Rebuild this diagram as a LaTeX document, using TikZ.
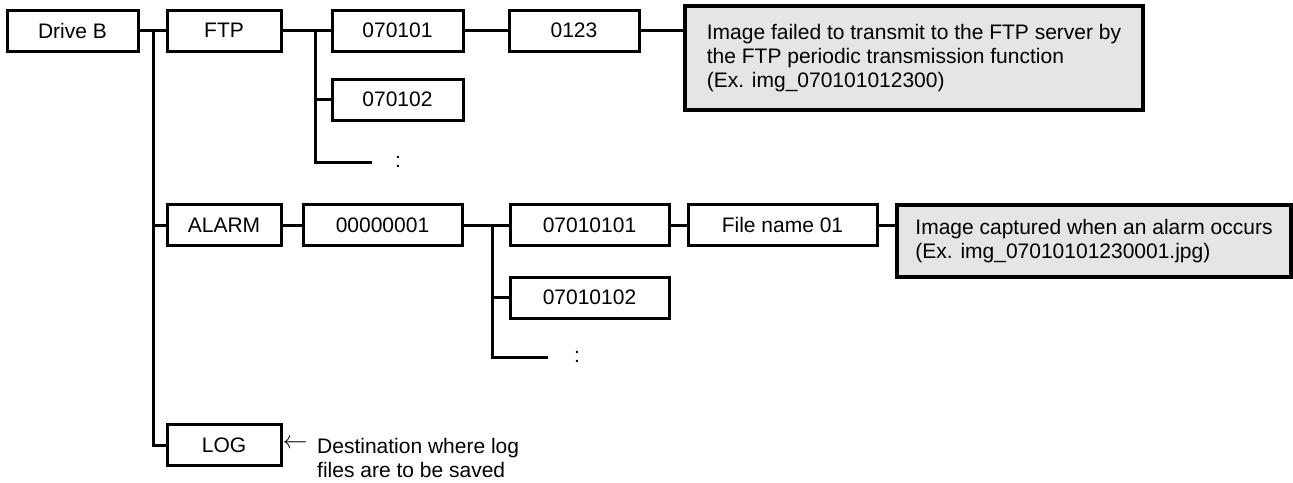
\documentclass[tikz,border=0pt]{standalone}
\usepackage{fontspec}
\setmainfont{Liberation Sans}
\begin{document}
\begin{tikzpicture}[x=1pt,y=-1pt,
  every node/.style={font=\fontsize{21}{24}\selectfont},
  box/.style={draw, line width=3pt, minimum height=41pt, inner sep=0pt, anchor=center},
  note/.style={draw, line width=3.5pt, fill=black!10, align=left, inner xsep=0pt, inner ysep=0pt, anchor=center},
  conn/.style={line width=3pt},
  plain/.style={inner sep=0pt}]
\useasboundingbox (0,0) rectangle (1293,482);
% FTP branch
\node[box, minimum width=131pt] (driveb) at (72.5,30.5) {Drive B};
\node[box, minimum width=114pt] (ftp) at (224,30.5) {FTP};
\node[box, minimum width=131pt] (f070101) at (397.5,30.5) {070101};
\node[box, minimum width=130pt] (f0123) at (574,30.5) {0123};
\node[note, minimum width=458pt, minimum height=104pt] (note1) at (914,58)
  {Image failed to transmit to the FTP server by\\the FTP periodic transmission function\\(Ex. img\_070101012300)};
\node[box, minimum width=131pt] (f070102) at (397.5,99.5) {070102};
\node[plain] (c1) at (398,162) {:};
% ALARM branch
\node[box, minimum width=114pt] (alarm) at (224,225) {ALARM};
\node[box, minimum width=159pt] (a1) at (382.5,225) {00000001};
\node[box, minimum width=159pt] (a070101) at (589.5,225) {07010101};
\node[box, minimum width=189pt] (fname) at (782.5,225) {File name 01};
\node[note, minimum width=394pt, minimum height=72pt] (note2) at (1094,241)
  {Image captured when an alarm occurs\\(Ex. img\_07010101230001.jpg)};
\node[box, minimum width=159pt] (a070102) at (589.5,297.5) {07010102};
\node[plain] (c2) at (577,357) {:};
% LOG
\node[box, minimum width=114pt] (log) at (224,445) {LOG};
\node[plain, font=\fontsize{26}{28}\selectfont] (larr) at (295,444) {$\leftarrow$};
\node[plain, align=left, anchor=north west] (logtext) at (317,438)
  {Destination where log\\files are to be saved};
% trunk coordinates
\coordinate (t0) at (153,30.5);
\coordinate (t1) at (315,30.5);
\coordinate (t2) at (492,225);
\coordinate (c1end) at (372,162);
\coordinate (c2end) at (548,357);
% connectors
\draw[conn] (driveb.east) -- (ftp.west);
\draw[conn] (t0) |- (log.west);
\draw[conn] (t0 |- alarm.west) -- (alarm.west);
\draw[conn] (ftp.east) -- (f070101.west);
\draw[conn] (t1) |- (c1end);
\draw[conn] (t1 |- f070102.west) -- (f070102.west);
\draw[conn] (f070101.east) -- (f0123.west);
\draw[conn] (f0123.east) -- (f0123.east -| note1.west);
\draw[conn] (alarm.east) -- (a1.west);
\draw[conn] (a1.east) -- (a070101.west);
\draw[conn] (t2) |- (c2end);
\draw[conn] (t2 |- a070102.west) -- (a070102.west);
\draw[conn] (a070101.east) -- (fname.west);
\draw[conn] (fname.east) -- (fname.east -| note2.west);
\end{tikzpicture}
\end{document}
